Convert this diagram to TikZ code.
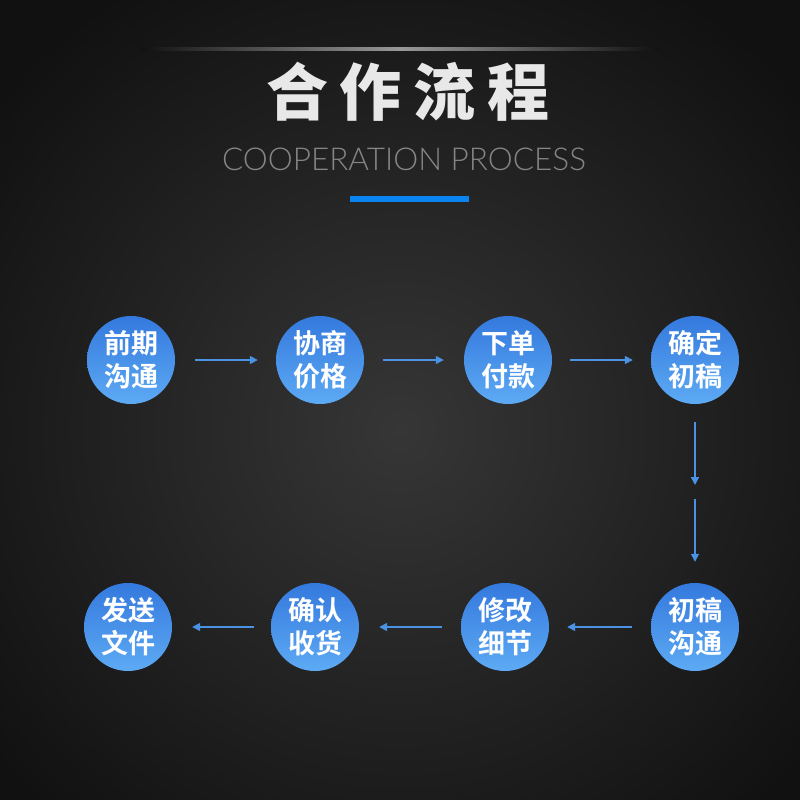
\documentclass[tikz,border=0pt]{standalone}
\usepackage{fontspec}
\newfontfamily\cjk[BoldFont={Noto Sans CJK SC Bold}]{Noto Sans CJK SC}
\newfontfamily\cjkblack{Noto Sans CJK SC Black}
\newfontfamily\latin{Lato Light}
\usetikzlibrary{arrows.meta}
\definecolor{bgout}{HTML}{111111}
\definecolor{bgin}{HTML}{363636}
\definecolor{cirtop}{HTML}{3479DE}
\definecolor{cirbot}{HTML}{5DAAF4}
\definecolor{arrc}{HTML}{4A92E4}
\definecolor{barc}{HTML}{0A84F0}
\definecolor{subc}{HTML}{858585}
\definecolor{titc}{HTML}{E8E8E8}
\tikzset{
  stepcircle/.style={circle, minimum size=88pt, inner sep=0pt, top color=cirtop, bottom color=cirbot, draw=none,
    text=white, align=center, font=\cjk\bfseries\fontsize{27}{33}\selectfont},
  arr/.style={draw=arrc, line width=1.6pt, -{Triangle[length=8pt,width=8pt]}},
}
\begin{document}
\begin{tikzpicture}[x=1pt,y=-1pt]
\useasboundingbox (0,0) rectangle (800,800);
\fill[bgout] (0,0) rectangle (800,800);
\begin{scope}
\clip (0,0) rectangle (800,800);
\shade[inner color=bgin, outer color=bgout] (400,430) circle (520);
\end{scope}
% top line
\shade[left color=bgout, right color=gray!80] (140,48) rectangle (400,50.5);
\shade[left color=gray!80, right color=bgout] (400,48) rectangle (660,50.5);
% title
\node[text=titc, font=\cjkblack\fontsize{62}{66}\selectfont] (title) at (408,92) {合\hspace{12pt}作\hspace{12pt}流\hspace{12pt}程};
\node[text=subc, font=\latin\fontsize{31.5}{34}\selectfont] (sub) at (404,159) {COOPERATION PROCESS};
\fill[barc] (350,196) rectangle (469,202);
% steps
\node[stepcircle] (a1) at (131,360) {前期\\沟通};
\node[stepcircle] (a2) at (320,360) {协商\\价格};
\node[stepcircle] (a3) at (508,360) {下单\\付款};
\node[stepcircle] (a4) at (695,360) {确定\\初稿};
\node[stepcircle] (b4) at (695,627) {初稿\\沟通};
\node[stepcircle] (b3) at (505,627) {修改\\细节};
\node[stepcircle] (b2) at (315,627) {确认\\收货};
\node[stepcircle] (b1) at (128,627) {发送\\文件};
\coordinate (m) at (695,492);
\draw[arr, shorten <=20pt, shorten >=18pt] (a1) -- (a2);
\draw[arr, shorten <=19pt, shorten >=20pt] (a2) -- (a3);
\draw[arr, shorten <=18pt, shorten >=18pt] (a3) -- (a4);
\draw[arr, shorten <=18pt, shorten >=7pt] (a4) -- (m);
\draw[arr, shorten <=7pt, shorten >=21pt] (m) -- (b4);
\draw[arr, shorten <=19pt, shorten >=18pt] (b4) -- (b3);
\draw[arr, shorten <=19pt, shorten >=20pt] (b3) -- (b2);
\draw[arr, shorten <=17pt, shorten >=20pt] (b2) -- (b1);
\end{tikzpicture}
\end{document}
